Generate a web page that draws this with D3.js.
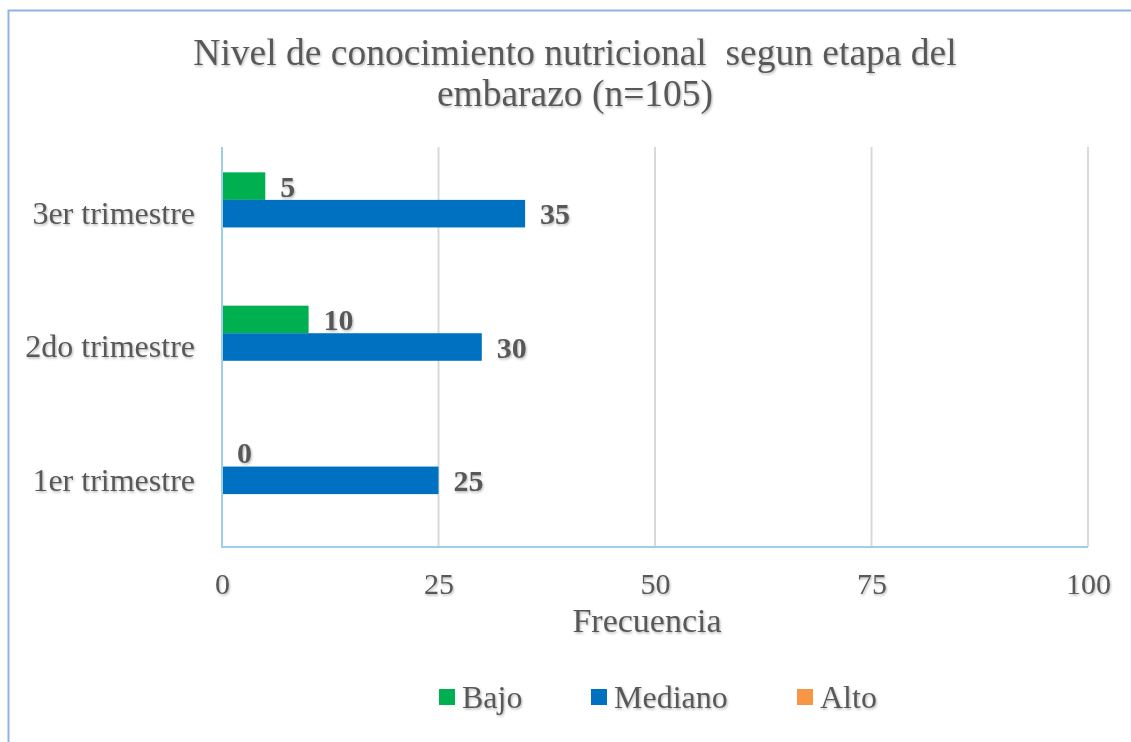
<!DOCTYPE html>
<html><head><meta charset="utf-8">
<script src="https://cdn.jsdelivr.net/npm/d3@7"></script>
<style>
body{margin:0;background:#fff;}
svg text{font-family:"Liberation Serif","Times New Roman",serif;fill:#595959;}
</style></head>
<body>
<svg id="c" width="1131" height="742"></svg>
<script>
const categories = ["1er trimestre","2do trimestre","3er trimestre"];
const seriesNames = ["Bajo","Mediano","Alto"];
const bajo = [0,10,5];
const mediano = [25,30,35];
const alto = [null,null,null];
const xTicks = [0,25,50,75,100];
const colors = ["#00B050","#0070C0","#F79646"];

const svg = d3.select("#c");
const defs = svg.append("defs");
const f = defs.append("filter").attr("id","sh").attr("x","-10%").attr("y","-10%").attr("width","130%").attr("height","140%");
f.append("feDropShadow").attr("dx",1).attr("dy",1.5).attr("stdDeviation",1.2).attr("flood-color","#000").attr("flood-opacity",0.28);

// outer chart border
svg.append("rect").attr("x",8.5).attr("y",10.5).attr("width",1140).attr("height",760)
  .attr("fill","none").attr("stroke","#8EB4E3").attr("stroke-width",2);

const L=222, R=1088, T=147, B=547;
const x = d3.scaleLinear().domain([0,100]).range([L,R]);
const y = d3.scaleBand().domain(categories.slice().reverse()).range([T,B]).paddingInner(0.38).paddingOuter(0.19);
const ys = d3.scaleBand().domain(seriesNames).range([0,y.bandwidth()]);

// gridlines
svg.append("g").selectAll("line").data(xTicks.filter(d=>d>0)).join("line")
  .attr("x1",d=>x(d)).attr("x2",d=>x(d)).attr("y1",T).attr("y2",B)
  .attr("stroke","#D9D9D9").attr("stroke-width",2);

const data = [bajo,mediano,alto];
const g = svg.append("g");
data.forEach((vals,si)=>{
  categories.forEach((c,ci)=>{
    const v = vals[ci];
    if(v===null) return;
    const yy = y(c)+ys(seriesNames[si]);
    g.append("rect").attr("x",x(0)).attr("y",yy).attr("width",x(v)-x(0)).attr("height",ys.bandwidth())
      .attr("fill",colors[si]);
    g.append("text").attr("x",x(v)+15).attr("y",yy+ys.bandwidth()/2).attr("dy","0.35em")
      .attr("font-size",30).attr("font-weight","bold").attr("filter","url(#sh)").text(v);
  });
});

// axes lines
svg.append("line").attr("x1",L).attr("x2",L).attr("y1",T).attr("y2",B).attr("stroke","#9DD0E4").attr("stroke-width",2);
svg.append("line").attr("x1",L-1).attr("x2",R).attr("y1",B).attr("y2",B).attr("stroke","#9DD0E4").attr("stroke-width",2);

// axes via d3
const xa = svg.append("g").attr("transform",`translate(0,${B})`).call(d3.axisBottom(x).tickValues(xTicks).tickSize(0).tickPadding(26));
xa.select(".domain").remove();
xa.selectAll("text").attr("font-size",30).attr("fill","#595959").attr("font-family","Liberation Serif").attr("filter","url(#sh)");

const ya = svg.append("g").attr("transform",`translate(${L},0)`).call(d3.axisLeft(y).tickSize(0).tickPadding(27));
ya.select(".domain").remove();
ya.selectAll("text").attr("font-size",32).attr("fill","#595959").attr("font-family","Liberation Serif").attr("filter","url(#sh)");

// axis title
svg.append("text").attr("x",(L+R)/2-8).attr("y",632).attr("text-anchor","middle").attr("font-size",34).attr("filter","url(#sh)").text("Frecuencia");

// title
const title = svg.append("text").attr("text-anchor","middle").attr("font-size",37.5).attr("filter","url(#sh)");
title.append("tspan").attr("x",575).attr("y",65).text("Nivel de conocimiento nutricional\u00A0 segun etapa del");
title.append("tspan").attr("x",575).attr("y",106).text("embarazo (n=105)");

// legend
const legX = [439,591,797];
const lg = svg.append("g");
seriesNames.forEach((s,i)=>{
  lg.append("rect").attr("x",legX[i]).attr("y",689).attr("width",16).attr("height",16).attr("fill",colors[i]);
  lg.append("text").attr("x",legX[i]+23).attr("y",708).attr("font-size",32).attr("filter","url(#sh)").text(s);
});
</script>
</body></html>
